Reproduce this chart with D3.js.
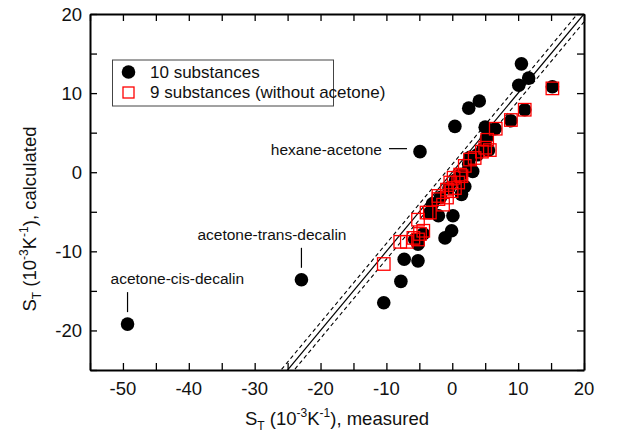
<!DOCTYPE html>
<html>
<head>
<meta charset="utf-8">
<script src="https://cdn.jsdelivr.net/npm/d3@7"></script>
<style>
  body { margin: 0; background: #fff; }
  svg text { font-family: "Liberation Sans", Arial, Helvetica, sans-serif; fill: #111; }
</style>
</head>
<body>
<div id="chart"></div>
<script>
// 10 substances (black dots), S_T measured vs calculated
const allMeasured = [-49.3, -22.9, -4.9, -10.4, -7.8, -7.3, -5.2, -5.2, -4.4, -5.7,
  -1.1, -0.1, -2.1, 0.1, -3.4, 1.4, 1.9, 3.1, 2.7, 0.4,
  2.5, 4.1, 5.0, 6.5, 8.9, 11.0, 15.2, 10.1, 11.6, 10.5,
  5.2, -3.0, -1.8, -0.5, 0.5, 1.3, 2.5, 3.8, 4.7, 5.5]
const allCalculated = [-19.2, -13.6, 2.6, -16.5, -13.8, -11.0, -11.2, -9.1, -7.8, -8.5,
  -8.3, -7.4, -5.5, -5.5, -5.1, -2.8, -1.8, 0.1, 1.9, 5.8,
  8.1, 9.0, 5.7, 5.5, 6.5, 7.9, 10.8, 11.0, 11.9, 13.7,
  4.3, -4.0, -3.2, -2.0, -1.0, -0.3, 1.0, 2.2, 3.0, 2.8]

// 9 substances without acetone (red squares)
const subMeasured = [15.2, 11.0, 8.9, 6.6, 5.3, 5.0, 5.7, 4.5, 3.4, 2.7,
  1.9, 1.2, 0.2, 1.4, -0.3, 0.9, 0.4, -0.8, -0.1, -2.1,
  -1.4, -0.8, -3.4, -3.9, -5.2, -4.4, -4.9, -5.9, -5.2, -6.9,
  -7.9, -10.4, -2.1]
const subCalculated = [10.6, 7.9, 6.6, 5.5, 4.1, 3.1, 2.8, 2.6, 1.8, 1.6,
  0.8, -0.3, -0.7, -0.5, -1.3, -1.3, -2.0, -2.2, -2.4, -3.4,
  -4.1, -3.2, -5.1, -5.1, -6.0, -7.4, -7.8, -8.3, -8.5, -8.8,
  -8.8, -11.6, -3.0]

const xTicks = [-50, -40, -30, -20, -10, 0, 10, 20]
const yTicks = [-20, -10, 0, 10, 20]
const bandOffset = 1   // dashed lines: y = x +/- 1

const annotations = [
  { name: 'hexane-acetone', x: -4.9, y: 2.6, side: 'left' },
  { name: 'acetone-trans-decalin', x: -22.9, y: -13.6, side: 'up', dx: -104 },
  { name: 'acetone-cis-decalin', x: -49.3, y: -19.2, side: 'up', dx: -17 }
]

const width = 621, height = 437
const margin = { left: 90, right: 37, top: 14, bottom: 67 }

let svg = d3.select('#chart').append('svg')
  .attr('width', width)
  .attr('height', height)

let xScale = d3.scaleLinear().domain([-55, 20]).range([margin.left, width - margin.right])
let yScale = d3.scaleLinear().domain([-25, 20]).range([height - margin.bottom, margin.top])

svg.append('clipPath').attr('id', 'plotClip')
  .append('rect')
  .attr('x', xScale(-55)).attr('y', yScale(20))
  .attr('width', xScale(20) - xScale(-55))
  .attr('height', yScale(-25) - yScale(20))

// reference lines
let lines = svg.append('g').attr('clip-path', 'url(#plotClip)')
;[0, bandOffset, -bandOffset].forEach(off => {
  lines.append('line')
    .attr('x1', xScale(-30)).attr('y1', yScale(-30 + off))
    .attr('x2', xScale(25)).attr('y2', yScale(25 + off))
    .attr('stroke', '#000')
    .attr('stroke-width', off === 0 ? 1.2 : 1.1)
    .attr('stroke-dasharray', off === 0 ? null : '4,3')
})

// axes, ticks inward on all four sides
let tickVals = d3.range(-55, 20.01, 5)
let yTickVals = d3.range(-25, 20.01, 5)
svg.append('g')
  .attr('transform', 'translate(0,' + yScale(-25) + ')')
  .call(d3.axisBottom(xScale).tickValues(tickVals).tickSizeInner(-7).tickSizeOuter(0).tickFormat(''))
svg.append('g')
  .attr('transform', 'translate(0,' + yScale(20) + ')')
  .call(d3.axisTop(xScale).tickValues(tickVals).tickSizeInner(-7).tickSizeOuter(0).tickFormat(''))
svg.append('g')
  .attr('transform', 'translate(' + xScale(-55) + ',0)')
  .call(d3.axisLeft(yScale).tickValues(yTickVals).tickSizeInner(-7).tickSizeOuter(0).tickFormat(''))
svg.append('g')
  .attr('transform', 'translate(' + xScale(20) + ',0)')
  .call(d3.axisRight(yScale).tickValues(yTickVals).tickSizeInner(-7).tickSizeOuter(0).tickFormat(''))
svg.selectAll('.domain').attr('stroke', '#000').attr('stroke-width', 2)
svg.selectAll('.tick line').attr('stroke', '#000').attr('stroke-width', 1.3)

svg.append('g').selectAll('text')
  .data(xTicks)
  .enter().append('text')
  .attr('x', d => xScale(d))
  .attr('y', yScale(-25) + 25)
  .attr('text-anchor', 'middle')
  .style('font-size', '18.5px')
  .text(d => d)

svg.append('g').selectAll('text')
  .data(yTicks)
  .enter().append('text')
  .attr('x', xScale(-55) - 8)
  .attr('y', d => yScale(d))
  .attr('dy', '0.36em')
  .attr('text-anchor', 'end')
  .style('font-size', '18.5px')
  .text(d => d)

// axis titles
function addTitle(g, tail) {
  g.append('tspan').text('S')
  g.append('tspan').attr('dy', 5).style('font-size', '12px').text('T')
  g.append('tspan').attr('dy', -5).text(' (10')
  g.append('tspan').attr('dy', -8).style('font-size', '12px').text('-3')
  g.append('tspan').attr('dy', 8).text('K')
  g.append('tspan').attr('dy', -8).style('font-size', '12px').text('-1')
  g.append('tspan').attr('dy', 8).text(tail)
}
let xTitle = svg.append('text')
  .attr('x', (xScale(-55) + xScale(20)) / 2)
  .attr('y', 425)
  .attr('text-anchor', 'middle')
  .style('font-size', '18.5px')
addTitle(xTitle, '), measured')

let yTitle = svg.append('text')
  .attr('transform', 'translate(36,' + ((yScale(-25) + yScale(20)) / 2 + 27) + ') rotate(-90)')
  .attr('text-anchor', 'middle')
  .style('font-size', '18.5px')
addTitle(yTitle, '), calculated')

// data
let allData = allMeasured.map((d, i) => [d, allCalculated[i]])
let subData = subMeasured.map((d, i) => [d, subCalculated[i]])

svg.append('g').attr('class', 'all')
  .selectAll('circle')
  .data(allData)
  .enter().append('circle')
  .attr('cx', d => xScale(d[0]))
  .attr('cy', d => yScale(d[1]))
  .attr('r', 6.8)
  .attr('fill', '#000')

const sq = 12.5
svg.append('g').attr('class', 'sub')
  .selectAll('rect')
  .data(subData)
  .enter().append('rect')
  .attr('x', d => xScale(d[0]) - sq / 2)
  .attr('y', d => yScale(d[1]) - sq / 2)
  .attr('width', sq)
  .attr('height', sq)
  .attr('fill', 'none')
  .attr('stroke', '#f00')
  .attr('stroke-width', 1.3)

// annotations
let ann = svg.append('g').attr('class', 'annotations')
annotations.forEach(a => {
  let px = xScale(a.x), py = yScale(a.y)
  if (a.side === 'left') {
    ann.append('line')
      .attr('x1', px - 31).attr('x2', px - 13)
      .attr('y1', py - 3).attr('y2', py - 3)
      .attr('stroke', '#000').attr('stroke-width', 1.2)
    ann.append('text')
      .attr('x', px - 38).attr('y', py + 3)
      .attr('text-anchor', 'end')
      .style('font-size', '15.5px')
      .text(a.name)
  } else {
    ann.append('line')
      .attr('x1', px).attr('x2', px)
      .attr('y1', py - 32).attr('y2', py - 12)
      .attr('stroke', '#000').attr('stroke-width', 1.2)
    ann.append('text')
      .attr('x', px + a.dx).attr('y', py - 40)
      .style('font-size', '15.5px')
      .text(a.name)
  }
})

// legend
let legend = svg.append('g').attr('class', 'legend')
legend.append('rect')
  .attr('x', 112.5).attr('y', 60)
  .attr('width', 221).attr('height', 46)
  .attr('fill', '#fff')
  .attr('stroke', '#444')
  .attr('stroke-width', 1)
legend.append('circle')
  .attr('cx', 128.5).attr('cy', 72)
  .attr('r', 6.8)
  .attr('fill', '#000')
legend.append('rect')
  .attr('x', 123).attr('y', 87)
  .attr('width', 11).attr('height', 11)
  .attr('fill', 'none')
  .attr('stroke', '#f00')
  .attr('stroke-width', 1.3)
legend.append('text')
  .attr('x', 150).attr('y', 78)
  .style('font-size', '17px')
  .text('10 substances')
legend.append('text')
  .attr('x', 150).attr('y', 98)
  .style('font-size', '17px')
  .text('9 substances (without acetone)')
</script>
</body>
</html>
